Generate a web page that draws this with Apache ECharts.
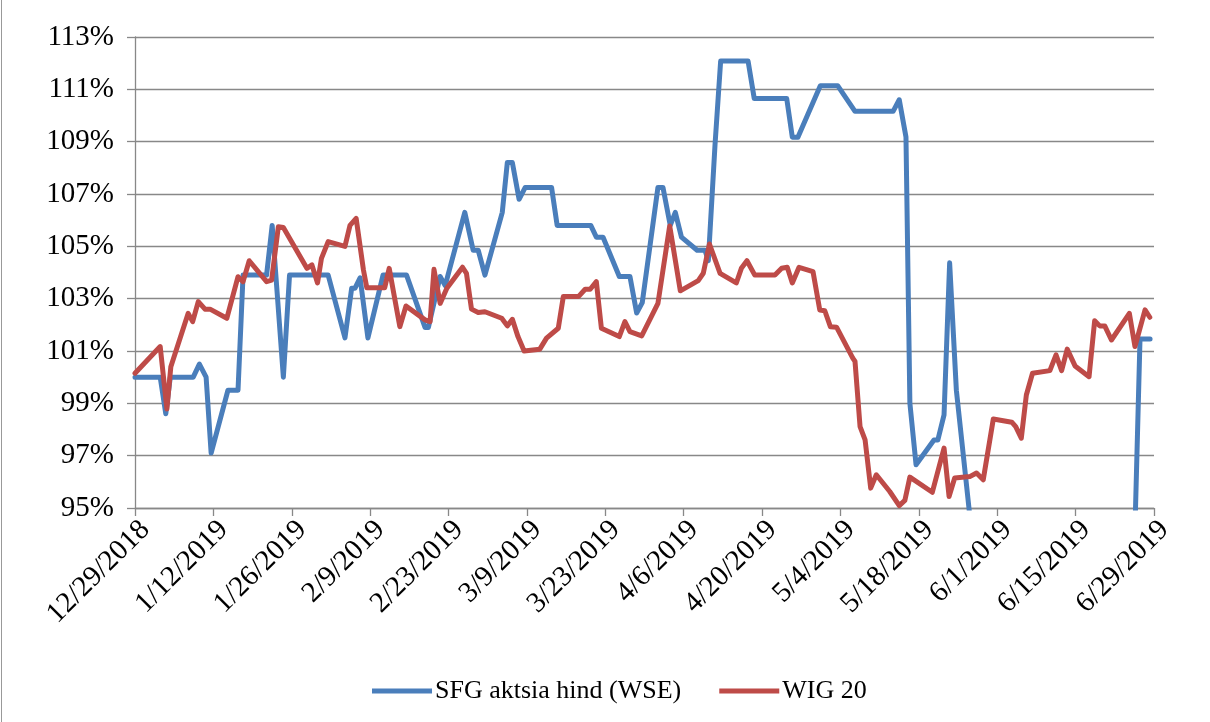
<!DOCTYPE html>
<html>
<head>
<meta charset="utf-8">
<script src="https://cdn.jsdelivr.net/npm/echarts@6/dist/echarts.min.js"></script>
<style>
html,body{margin:0;padding:0;background:#fff;}
#chart{width:1210px;height:722px;}
</style>
</head>
<body>
<div id="chart"></div>
<script>
// x values are days since 12/29/2018
const tickLabels = ['12/29/2018','1/12/2019','1/26/2019','2/9/2019','2/23/2019','3/9/2019','3/23/2019','4/6/2019','4/20/2019','5/4/2019','5/18/2019','6/1/2019','6/15/2019','6/29/2019'];
const seriesNames = ['SFG aktsia hind (WSE)', 'WIG 20'];

const sfgDay = [0,4.5,5.5,6.3,10.4,11.5,12.7,13.6,16.6,18.4,19.3,23.5,24.5,26.5,27.6,34.5,37.5,38.7,39.3,40.2,41.6,44.3,48.5,51.8,52.4,54.5,55.4,58.9,60.4,61.3,62.5,65.6,66.5,67.4,68.6,69.7,74.4,75.4,81.4,82.4,83.6,86.5,88.4,89.6,90.6,93.4,94.3,95.6,96.5,97.6,100.4,101.8,102.4,103.6,104.6,109.5,110.6,116.4,117.4,118.4,122.4,125.5,128.6,135.4,136.5,137.7,138.4,139.5,142.7,143.4,144.5,145.5,146.7,149.5,156,166,173,178.6,179.5,181.3];
const sfgValue = [100.0,100.0,98.6,100.0,100.0,100.5,100.0,97.1,99.5,99.5,103.9,103.9,105.8,100.0,103.9,103.9,101.5,103.4,103.4,103.8,101.5,103.9,103.9,101.9,101.9,103.85,103.5,106.3,104.85,104.85,103.9,106.3,108.2,108.2,106.8,107.25,107.25,105.8,105.8,105.35,105.35,103.85,103.85,102.45,102.85,107.25,107.25,105.8,106.3,105.35,104.85,104.85,104.45,108.9,112.08,112.08,110.65,110.65,109.17,109.17,111.14,111.14,110.16,110.16,110.6,109.18,99.0,96.65,97.6,97.6,98.56,104.37,99.5,93.9,92.8,93.5,92.9,94.2,101.46,101.46];

const wigDay = [0,4.5,5.7,6.4,9.5,10.3,11.3,12.5,13.4,16.4,18.4,19.3,20.4,23.5,24.4,25.6,26.5,30.7,31.6,32.6,33.3,34.5,37.5,38.4,39.5,40.8,41.4,44.6,45.4,47.3,48.4,51.8,52.7,53.4,54.5,55.7,58.5,59.2,60.1,61.3,62.5,65.5,66.5,67.4,68.4,69.5,72.3,73.5,75.6,76.5,79.2,80.4,81.3,82.4,83.3,86.5,87.5,88.4,90.5,93.4,95.5,97.4,100.6,101.5,102.6,104.5,107.4,108.3,109.3,110.7,114.3,115.5,116.5,117.4,118.6,121.1,122.3,123.2,124.2,125.3,128.2,128.6,129.5,130.4,131.4,132.4,134.8,136.5,137.5,138.4,142.4,144.5,145.4,146.4,149.1,150.3,151.5,153.3,156.6,157.3,158.3,159.2,160.3,163.4,164.5,165.5,166.5,167.9,170.4,171.4,172.3,173.2,174.4,177.6,178.6,180.4,181.25];
const wigValue = [100.15,101.17,98.78,100.4,102.44,102.12,102.89,102.6,102.6,102.25,103.84,103.65,104.45,103.65,103.71,105.75,105.72,104.16,104.29,103.6,104.54,105.18,105.0,105.8,106.07,104.1,103.42,103.42,104.16,101.93,102.72,102.19,102.12,104.12,102.82,103.4,104.2,103.97,102.6,102.47,102.5,102.25,101.96,102.21,101.55,101.0,101.07,101.49,101.87,103.08,103.08,103.36,103.36,103.65,101.87,101.55,102.12,101.74,101.58,102.82,105.78,103.3,103.69,103.97,105.09,103.97,103.6,104.16,104.45,103.9,103.9,104.16,104.2,103.6,104.2,104.03,102.57,102.54,101.93,101.91,100.73,100.6,98.11,97.6,95.76,96.27,95.63,95.09,95.29,96.18,95.6,97.29,95.44,96.15,96.2,96.34,96.08,98.4,98.28,98.11,97.67,99.32,100.15,100.25,100.85,100.25,101.07,100.43,100.02,102.16,101.96,101.96,101.42,102.44,101.17,102.57,102.29];

const pair = (xs, ys) => xs.map((x, i) => [x, ys[i]]);
const FONT = 'Liberation Serif';
const chart = echarts.init(document.getElementById('chart'), null, {renderer: 'canvas'});
chart.setOption({
  animation: false,
  backgroundColor: '#fff',
  graphic: [{type: 'line', shape: {x1: 1.5, y1: 0, x2: 1.5, y2: 722}, style: {stroke: '#999', lineWidth: 1}}],
  grid: {left: 135, right: 56, top: 37, bottom: 214, containLabel: false},
  legend: {
    bottom: 13, left: 367,
    icon: 'rect', itemWidth: 60, itemHeight: 5, itemGap: 38,
    textStyle: {fontFamily: FONT, fontSize: 26, color: '#000', padding: [0,0,0,-2]},
    data: seriesNames
  },
  xAxis: {
    type: 'value', min: 0, max: 182, interval: 14,
    axisLine: {show: true, lineStyle: {color: '#888', width: 1.3}},
    axisTick: {show: true, length: 8, lineStyle: {color: '#888', width: 1.3}},
    splitLine: {show: false},
    axisLabel: {
      rotate: 45, margin: 7, verticalAlign: 'top', fontFamily: FONT, fontSize: 29, color: '#000',
      formatter: v => tickLabels[Math.round(v / 14)]
    }
  },
  yAxis: {
    type: 'value', min: 95, max: 113, interval: 2,
    axisLine: {show: true, lineStyle: {color: '#888', width: 1.3}},
    axisTick: {show: true, length: 8, lineStyle: {color: '#888', width: 1.3}},
    splitLine: {show: true, lineStyle: {color: '#888', width: 1.3}},
    axisLabel: {margin: 21, fontFamily: FONT, fontSize: 29, color: '#000', formatter: v => v + '%'}
  },
  series: [
    {name: seriesNames[0], type: 'line', data: pair(sfgDay, sfgValue), showSymbol: false, symbol: 'none', clip: true,
     lineStyle: {color: '#4A7EBB', width: 5, join: 'round', cap: 'round'}, itemStyle: {color: '#4A7EBB'}},
    {name: seriesNames[1], type: 'line', data: pair(wigDay, wigValue), showSymbol: false, symbol: 'none', clip: true,
     lineStyle: {color: '#BE4B48', width: 5, join: 'round', cap: 'round'}, itemStyle: {color: '#BE4B48'}}
  ]
});
</script>
</body>
</html>
